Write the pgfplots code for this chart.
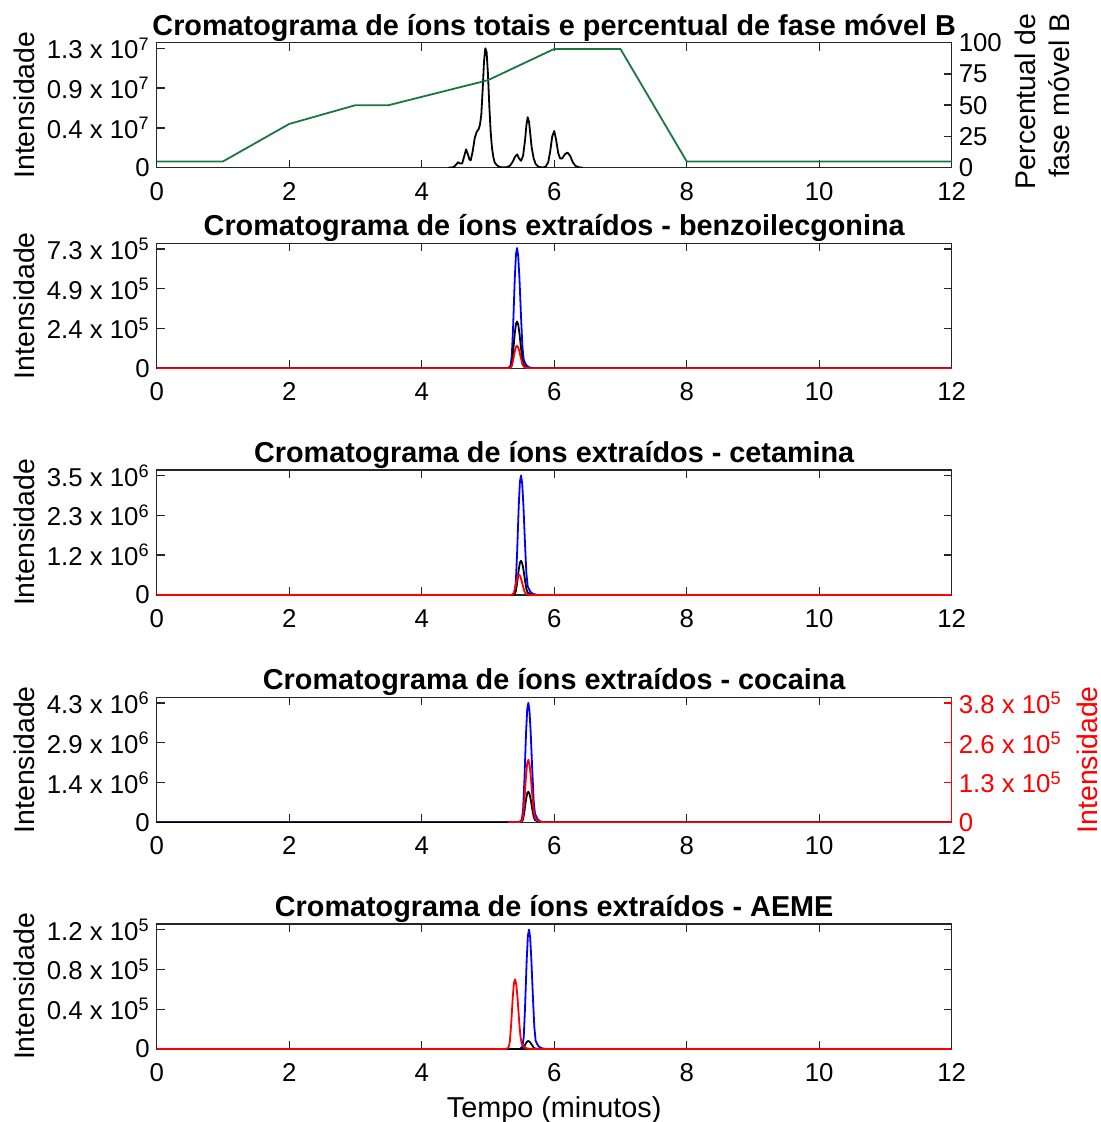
\documentclass[border=0pt]{standalone}
\usepackage{pgfplots}
\pgfplotsset{compat=1.18}
\usepackage{fontspec}
\setmainfont{Liberation Sans}
\definecolor{mygreen}{RGB}{25,120,65}
\definecolor{axgray}{RGB}{38,38,38}
\newcommand{\tk}[2]{#1 x 10\textsuperscript{#2}}
\pgfplotsset{
  panel/.style={
    scale only axis, width=397.5pt, height=62.5pt,
    xmin=0, xmax=12, ymin=0,
    xtick={0,2,4,6,8,10,12},
    tick align=inside, major tick length=4pt,
    axis line style={axgray, line width=0.7pt},
    every tick/.style={axgray, line width=0.7pt},
    tick label style={font=\fontsize{12.9}{15}\selectfont, black},
    xticklabel style={yshift=-3.8pt},
    /pgf/number format/assume math mode=true,
    title style={font=\fontsize{14.4}{17}\selectfont\bfseries, at={(axis description cs:0.5,1)}, anchor=base, yshift=-2.3pt},
    every axis y label/.style={at={(axis description cs:-0.167,0.5)}, rotate=90, anchor=center, font=\fontsize{14.2}{17}\selectfont},
    every axis x label/.style={at={(axis description cs:0.5,-0.544)}, anchor=base, font=\fontsize{14.4}{17}\selectfont},
    every axis plot/.append style={line width=0.9pt, line join=round},
  }
}
\begin{document}
\begin{tikzpicture}
\useasboundingbox (0,0) rectangle (550pt,-561pt);
% ---------- Panel 1 ----------
\begin{axis}[panel, at={(78.35pt,-83.85pt)}, anchor=south west,
  ymax=13.61, ytick={0,4.333,8.667,13}, ytick pos=left,
  yticklabels={0,\tk{0.4}{7},\tk{0.9}{7},\tk{1.3}{7}},
  ylabel={Intensidade},
  title={Cromatograma de íons totais e percentual de fase móvel B}]
\addplot[black] coordinates {
(4.40,0)(4.45,0.02)(4.49,0.1)(4.52,0.35)(4.55,0.6)(4.58,0.45)(4.61,0.45)(4.64,1.2)
(4.67,2.0)(4.70,1.4)(4.72,0.9)(4.74,0.8)(4.77,1.8)(4.80,3.2)(4.83,3.9)(4.86,4.2)
(4.88,4.7)(4.90,5.8)(4.92,8.5)(4.94,11.5)(4.96,13.0)(4.98,12.6)(5.00,10.2)(5.02,6.8)
(5.04,4.0)(5.06,2.2)(5.08,1.2)(5.10,0.6)(5.13,0.3)(5.17,0.1)(5.22,0.03)(5.28,0.05)
(5.33,0.2)(5.37,0.6)(5.41,1.2)(5.44,1.45)(5.47,1.0)(5.50,0.75)(5.53,1.3)(5.56,3.0)
(5.58,4.6)(5.60,5.5)(5.62,5.0)(5.64,3.6)(5.66,2.2)(5.69,1.0)(5.72,0.4)(5.76,0.1)
(5.82,0.02)(5.87,0.1)(5.91,0.6)(5.94,1.8)(5.97,3.4)(6.00,4.0)(6.03,3.0)(6.06,1.6)
(6.09,1.0)(6.12,1.0)(6.16,1.45)(6.20,1.65)(6.24,1.3)(6.28,0.6)(6.32,0.2)(6.37,0.05)(6.43,0)};
\end{axis}
\begin{axis}[panel, at={(78.35pt,-83.85pt)}, anchor=south west,
  axis x line=none, axis y line*=right,
  ymax=100, ytick={0,25,50,75,100},
  every axis y label/.style={at={(axis description cs:1.1136,0.53)}, rotate=90, anchor=center, font=\fontsize{14.2}{17}\selectfont, align=right},
  ylabel={Percentual de\\fase móvel B}]
\addplot[mygreen] coordinates {(0,5)(1,5)(2,35)(3,50)(3.5,50)(5,70)(6,95)(7,95)(8,5)(12,5)};
\end{axis}
% ---------- Panel 2 ----------
\begin{axis}[panel, at={(78.35pt,-184.15pt)}, anchor=south west,
  ymax=7.64, ytick={0,2.433,4.867,7.3},
  yticklabels={0,\tk{2.4}{5},\tk{4.9}{5},\tk{7.3}{5}},
  ylabel={Intensidade},
  title={Cromatograma de íons extraídos - benzoilecgonina}]
\addplot[blue] coordinates {(0,0)(5.30,0)(5.34,0.15)(5.36,0.74)(5.38,2.57)(5.405,5.51)(5.423,6.98)(5.44,7.35)(5.457,6.84)(5.475,5.51)(5.50,3.09)(5.52,1.32)(5.54,0.51)(5.58,0.18)(5.62,0.06)(5.69,0)(12,0)};
\addplot[black] coordinates {(0,0)(5.30,0)(5.34,0.06)(5.36,0.29)(5.38,1.0)(5.405,2.15)(5.423,2.72)(5.44,2.86)(5.457,2.66)(5.475,2.15)(5.50,1.2)(5.52,0.51)(5.54,0.2)(5.58,0.07)(5.62,0.02)(5.69,0)(12,0)};
\addplot[red] coordinates {(0,0)(5.30,0)(5.34,0.03)(5.36,0.14)(5.38,0.48)(5.405,1.03)(5.423,1.30)(5.44,1.37)(5.457,1.27)(5.475,1.03)(5.50,0.58)(5.52,0.25)(5.54,0.1)(5.58,0.03)(5.62,0.01)(5.69,0)(12,0)};
\end{axis}
% ---------- Panel 3 ----------
\begin{axis}[panel, at={(78.35pt,-297.5pt)}, anchor=south west,
  ymax=3.66, ytick={0,1.167,2.333,3.5},
  yticklabels={0,\tk{1.2}{6},\tk{2.3}{6},\tk{3.5}{6}},
  ylabel={Intensidade},
  title={Cromatograma de íons extraídos - cetamina}]
\addplot[blue] coordinates {(0,0)(5.36,0)(5.40,0.07)(5.42,0.35)(5.44,1.23)(5.465,2.63)(5.483,3.33)(5.50,3.5)(5.517,3.26)(5.535,2.63)(5.56,1.47)(5.58,0.63)(5.60,0.25)(5.64,0.09)(5.68,0.03)(5.75,0)(12,0)};
\addplot[black] coordinates {(0,0)(5.36,0)(5.40,0.02)(5.42,0.1)(5.44,0.35)(5.465,0.75)(5.483,0.95)(5.50,1.0)(5.517,0.93)(5.535,0.75)(5.56,0.42)(5.58,0.18)(5.60,0.07)(5.64,0.025)(5.68,0.008)(5.75,0)(12,0)};
\addplot[red] coordinates {(0,0)(5.33,0)(5.37,0.012)(5.39,0.06)(5.41,0.21)(5.435,0.44)(5.453,0.56)(5.47,0.59)(5.487,0.55)(5.505,0.44)(5.53,0.25)(5.55,0.11)(5.57,0.04)(5.61,0.015)(5.65,0.005)(5.72,0)(12,0)};
\end{axis}
% ---------- Panel 4 ----------
\begin{axis}[panel, at={(78.35pt,-411.15pt)}, anchor=south west,
  ymax=4.50, ytick={0,1.433,2.867,4.3}, ytick pos=left,
  yticklabels={0,\tk{1.4}{6},\tk{2.9}{6},\tk{4.3}{6}},
  ylabel={Intensidade},
  title={Cromatograma de íons extraídos - cocaina}]
\addplot[blue] coordinates {(0,0)(5.47,0)(5.51,0.09)(5.53,0.43)(5.55,1.5)(5.575,3.23)(5.593,4.09)(5.61,4.3)(5.627,4.0)(5.645,3.23)(5.67,1.81)(5.69,0.77)(5.71,0.3)(5.75,0.11)(5.79,0.03)(5.86,0)(12,0)};
\addplot[black] coordinates {(0,0)(5.47,0)(5.51,0.02)(5.53,0.11)(5.55,0.39)(5.575,0.83)(5.593,1.05)(5.61,1.1)(5.627,1.02)(5.645,0.83)(5.67,0.46)(5.69,0.2)(5.71,0.08)(5.75,0.03)(5.79,0.01)(5.86,0)(12,0)};
\end{axis}
\begin{axis}[panel, at={(78.35pt,-411.15pt)}, anchor=south west,
  axis x line=none, axis y line*=right,
  y axis line style={red}, ytick style={red},
  yticklabel style={red},
  ymax=3.98, ytick={0,1.267,2.533,3.8},
  yticklabels={0,\tk{1.3}{5},\tk{2.6}{5},\tk{3.8}{5}},
  every axis y label/.style={at={(axis description cs:1.170,0.5)}, rotate=90, anchor=center, font=\fontsize{14.2}{17}\selectfont, red},
  ylabel={Intensidade}]
\addplot[red] coordinates {(5.30,0)(5.47,0)(5.51,0.04)(5.53,0.2)(5.55,0.7)(5.575,1.49)(5.593,1.89)(5.61,1.99)(5.627,1.85)(5.645,1.49)(5.67,0.84)(5.69,0.36)(5.71,0.14)(5.75,0.05)(5.79,0.016)(5.86,0)(12,0)};
\end{axis}
% ---------- Panel 5 ----------
\begin{axis}[panel, at={(78.35pt,-524.5pt)}, anchor=south west,
  ymax=1.256, ytick={0,0.4,0.8,1.2},
  yticklabels={0,\tk{0.4}{5},\tk{0.8}{5},\tk{1.2}{5}},
  ylabel={Intensidade}, xlabel={Tempo (minutos)},
  title={Cromatograma de íons extraídos - AEME}]
\addplot[blue] coordinates {(0,0)(5.48,0)(5.52,0.024)(5.54,0.12)(5.56,0.42)(5.585,0.9)(5.603,1.14)(5.62,1.2)(5.637,1.12)(5.655,0.9)(5.68,0.5)(5.70,0.22)(5.72,0.08)(5.76,0.03)(5.80,0.01)(5.87,0)(12,0)};
\addplot[black] coordinates {(0,0)(5.47,0)(5.51,0.002)(5.53,0.008)(5.55,0.028)(5.575,0.06)(5.593,0.076)(5.61,0.08)(5.627,0.074)(5.645,0.06)(5.67,0.034)(5.69,0.014)(5.71,0.006)(5.75,0.002)(5.79,0)(12,0)};
\addplot[red] coordinates {(0,0)(5.27,0)(5.31,0.014)(5.33,0.07)(5.35,0.245)(5.375,0.525)(5.393,0.665)(5.41,0.70)(5.427,0.65)(5.445,0.525)(5.47,0.29)(5.49,0.13)(5.51,0.05)(5.55,0.018)(5.59,0.006)(5.66,0)(12,0)};
\end{axis}
\end{tikzpicture}
\end{document}
